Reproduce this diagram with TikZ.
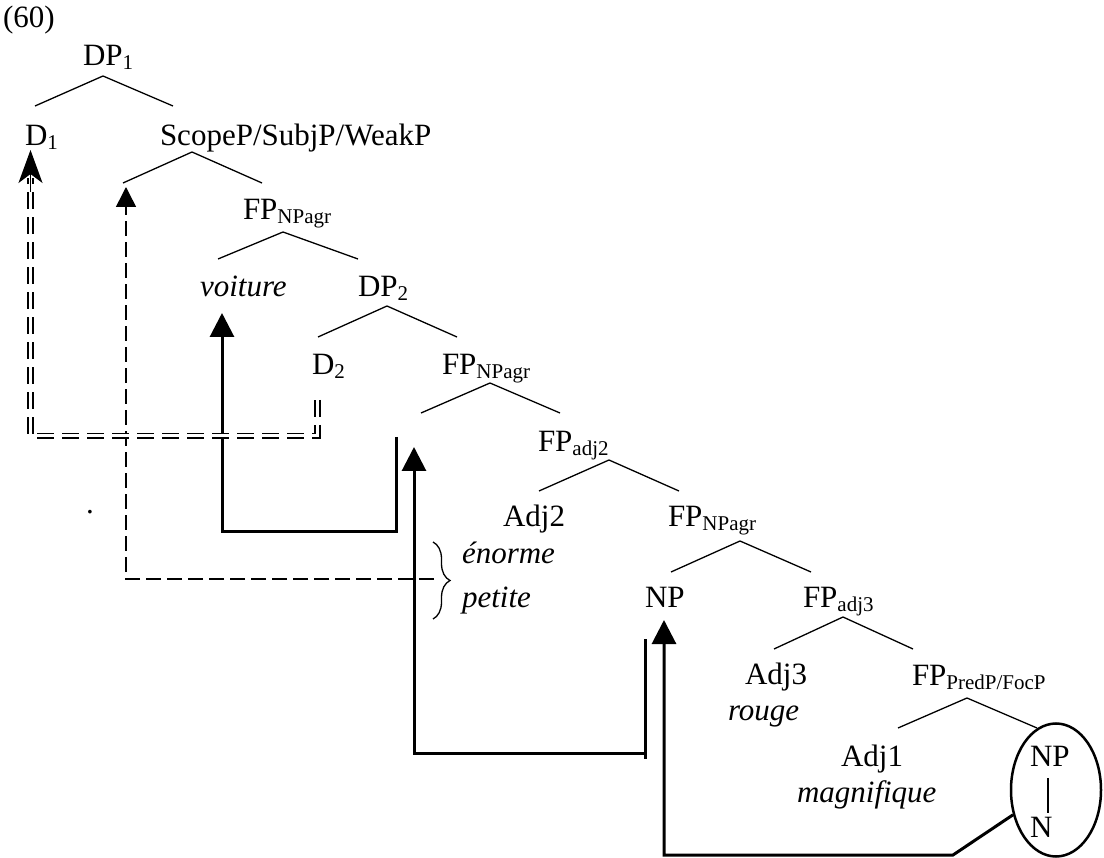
\documentclass[tikz,border=0pt]{standalone}
\usepackage{fontspec}
\setmainfont{Liberation Serif}
\usetikzlibrary{arrows.meta,shapes.geometric,decorations.pathreplacing}
\newcommand{\mysub}[1]{\raisebox{-4pt}{\fontsize{21}{21}\selectfont #1}}
\begin{document}
\begin{tikzpicture}[x=1pt,y=-1pt,
  lab/.style={inner sep=0pt,outer sep=0pt,anchor=base west,font=\fontsize{31}{36}\selectfont},
  branch/.style={line width=1.3pt},
  mv/.style={line width=3pt,-{Triangle[length=24pt,width=24pt]}},
  dsh/.style={line width=1.5pt,dash pattern=on 15pt off 6pt,-{Triangle[length=20pt,width=20pt]}},
  ddsh/.style={line width=1.8pt,double,double distance=3pt,dash pattern=on 17pt off 8pt},
]
\useasboundingbox (0,0) rectangle (1104,858);

% ---------- labels ----------
\node[lab] (ex) at (3,28) {(60)};
\node[lab] (DP1) at (83,66) {DP\mysub{1}};
\node[lab] (D1) at (25,146) {D\mysub{1}};
\node[lab] (Scope) at (160,146) {ScopeP/SubjP/WeakP};
\node[lab] (FPa) at (243,220) {FP\mysub{NPagr}};
\node[lab] (voit) at (200,297) {\itshape voiture};
\node[lab] (DP2) at (358,297) {DP\mysub{2}};
\node[lab] (D2) at (312,375) {D\mysub{2}};
\node[lab] (FPb) at (442,375) {FP\mysub{NPagr}};
\node[lab] (FPadjtwo) at (538,452) {FP\mysub{adj2}};
\node[lab] (Adjtwo) at (503,527) {Adj2};
\node[lab] (FPc) at (668,527) {FP\mysub{NPagr}};
\node[lab] (enorme) at (462,563) {\itshape énorme};
\node[lab] (petite) at (462,607) {\itshape petite};
\node[lab] (NPm) at (645,607) {NP};
\node[lab] (FPadjthree) at (803,607) {FP\mysub{adj3}};
\node[lab] (Adjthree) at (745,684) {Adj3};
\node[lab] (rouge) at (728,720) {\itshape rouge};
\node[lab] (FPpred) at (912,685) {FP\mysub{PredP/FocP}};
\node[lab] (Adjone) at (841,766) {Adj1};
\node[lab] (magn) at (797,802) {\itshape magnifique};
\node[lab] (NPin) at (1030,766) {NP};
\node[lab] (Nin) at (1030,837) {N};
\node[lab] (dot) at (86,514) {.};
\node[draw,ellipse,line width=2.5pt,minimum width=90pt,minimum height=133pt,inner sep=0pt] (circ) at (1056,790) {};

% ---------- tree branches ----------
\coordinate (a1) at (103,76);  \coordinate (l1) at (35,106);  \coordinate (r1) at (173,106);
\coordinate (a2) at (192,152); \coordinate (l2) at (123,183); \coordinate (r2) at (262,183);
\coordinate (a3) at (283,232); \coordinate (l3) at (218,259); \coordinate (r3) at (358,259);
\coordinate (a4) at (387,306); \coordinate (l4) at (318,337); \coordinate (r4) at (457,337);
\coordinate (a5) at (490,383); \coordinate (l5) at (421,413); \coordinate (r5) at (560,413);
\coordinate (a6) at (609,460); \coordinate (l6) at (539,491); \coordinate (r6) at (679,491);
\coordinate (a7) at (740,541); \coordinate (l7) at (671,572); \coordinate (r7) at (811,572);
\coordinate (a8) at (843,617); \coordinate (l8) at (774,649); \coordinate (r8) at (913,649);
\coordinate (a9) at (967,698); \coordinate (l9) at (898,728); \coordinate (r9) at (1037,728);
\foreach \i in {1,...,9}{\draw[branch] (l\i) -- (a\i) -- (r\i);}
\coordinate (npl) at (1048,778); \coordinate (nl) at (1048,813);
\draw[branch] (npl) -- (nl);

% ---------- solid movement arrows ----------
\coordinate (m1s) at (396,437); \coordinate (m1c) at (396,532); \coordinate (m1d) at (222,532); \coordinate (m1t) at (222,313);
\draw[mv] (m1s) -- (m1c) -- (m1d) -- (m1t);
\coordinate (m2s) at (645,639); \coordinate (m2e) at (645,759); \coordinate (m2c) at (645,753); \coordinate (m2d) at (414,753); \coordinate (m2t) at (414,447);
\draw[line width=3pt] (m2s) -- (m2e);
\draw[mv] (m2c) -- (m2d) -- (m2t);
\coordinate (m3b) at (953,855); \coordinate (m3c) at (664,855); \coordinate (m3t) at (664,620);
\draw[mv] (circ.210) -- (m3b) -- (m3c) -- (m3t);

% ---------- dashed arrow from brace ----------
\coordinate (br1) at (433,542); \coordinate (br2) at (433,619);
\draw[line width=1.3pt,decorate,decoration={brace,amplitude=17pt}] (br1) -- (br2);
\coordinate (ds) at (434,579); \coordinate (dc) at (126,579); \coordinate (dt) at (126,187);
\draw[dsh] (ds) -- (dc) -- (dt);

% ---------- double dashed arrow D2 -> D1 ----------
\coordinate (e1) at (317.5,400); \coordinate (e2) at (317.5,436); \coordinate (e3) at (30.5,436); \coordinate (e4) at (30.5,178);
\coordinate (e5) at (30.5,192); \coordinate (e6) at (30.5,150);
\draw[ddsh] (e1) -- (e2) -- (e3) -- (e4);
\draw[line width=1.8pt,-{Stealth[length=33pt,width=24pt,inset=9pt]}] (e5) -- (e6);
\end{tikzpicture}
\end{document}
